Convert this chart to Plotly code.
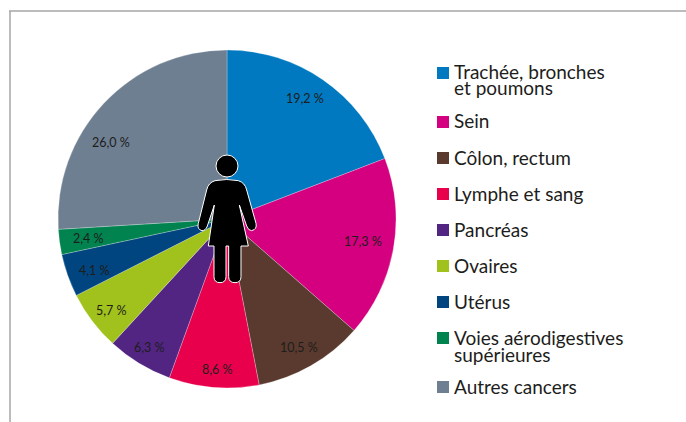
import math
import plotly.graph_objects as go

categories = ["Trachée, bronches et poumons", "Sein", "Côlon, rectum", "Lymphe et sang", "Pancréas",
              "Ovaires", "Utérus", "Voies aérodigestives supérieures", "Autres cancers"]
values = [19.2, 17.3, 10.5, 8.6, 6.3, 5.7, 4.1, 2.4, 26.0]
colors = ["#0079C1", "#D4007F", "#5A3A2E", "#E9004C", "#522583", "#A1C21C", "#004580", "#00834F", "#6F7F92"]
legend_lines = [["Trachée, bronches", "et poumons"], ["Sein"], ["Côlon, rectum"], ["Lymphe et sang"], ["Pancréas"],
                ["Ovaires"], ["Utérus"], ["Voies aérodigestives", "supérieures"], ["Autres cancers"]]

W, H = 686, 422
CX, CY, R = 227, 219, 169
FONT = "Lato"
TEXT = "#1d1d1b"
px = lambda x: x / W
py = lambda y: 1 - y / H

fig = go.Figure(go.Pie(
    labels=categories, values=values, sort=False, direction="clockwise", rotation=0,
    marker=dict(colors=colors, line=dict(color="rgba(255,255,255,0.35)", width=0.7)),
    textinfo="none", hoverinfo="label+percent", showlegend=False,
    domain=dict(x=[px(CX - R), px(CX + R)], y=[py(CY + R), py(CY - R)]),
))

annotations, shapes = [], []

# value labels, placed on the middle angle of each slice, then nudged as in the original
label_nudge = [(-2, -5), (-2, -2), (2, 7), (1, 11), (-5, 9), (-4, 7), (0, 5), (0, 0), (-14, 20)]
total = sum(values)
cum = 0
for v, (nx, ny) in zip(values, label_nudge):
    a = 2 * math.pi * (cum + v / 2) / total
    cum += v
    annotations.append(dict(
        x=px(CX + 0.83 * R * math.sin(a) + nx), y=py(CY - 0.83 * R * math.cos(a) + ny),
        xref="paper", yref="paper", showarrow=False, xanchor="center", yanchor="middle",
        text=f"{v:.1f} %".replace(".", ","), font=dict(family=FONT, size=12.5, color=TEXT),
    ))

# legend
legend_y = [72, 121, 158, 194, 230, 266, 302, 338, 387]
key_y = [73, 122, 158, 194, 230, 266, 302, 338, 387]
LINE = 17
for lines, y0, ky, c in zip(legend_lines, legend_y, key_y, colors):
    shapes.append(dict(type="rect", xref="paper", yref="paper", x0=px(437), x1=px(449),
                       y0=py(ky - 6), y1=py(ky + 6), fillcolor=c, line_width=0))
    for i, t in enumerate(lines):
        annotations.append(dict(x=px(451.5), y=py(y0 - 1 + i * LINE), xref="paper", yref="paper", showarrow=False,
                                xanchor="left", yanchor="middle", text=t,
                                font=dict(family=FONT, size=19, color=TEXT)))

# frame
for x0, y0, x1, y1 in [(9, 11, W, 11), (10, 11, 10, H)]:
    shapes.append(dict(type="line", xref="paper", yref="paper", x0=px(x0), y0=py(y0), x1=px(x1), y1=py(y1),
                       line=dict(color="#A6A6A6", width=1.5)))

# silhouette (outline traced in zoomed-crop units)
zx = lambda x: px(180 + x / 3)
zy = lambda y: py(140 + y / 3)
body = [("M", 105, 122), ("Q", 140, 115, 175, 122), ("Q", 195, 128, 200, 150), ("L", 228, 250),
        ("Q", 232, 268, 215, 272), ("Q", 205, 272, 200, 258), ("L", 178, 195), ("L", 205, 318), ("L", 183, 318),
        ("L", 183, 410), ("Q", 183, 428, 165, 428), ("Q", 146, 428, 146, 410), ("L", 146, 318), ("L", 138, 318),
        ("L", 138, 410), ("Q", 138, 428, 120, 428), ("Q", 102, 428, 102, 410), ("L", 102, 318), ("L", 85, 318),
        ("L", 103, 195), ("L", 82, 258), ("Q", 77, 272, 66, 272), ("Q", 50, 268, 55, 250), ("L", 80, 150),
        ("Q", 85, 128, 105, 122)]
path = ""
for seg in body:
    coords = seg[1:]
    pts = " ".join(f"{zx(coords[i]):.5f} {zy(coords[i + 1]):.5f}" for i in range(0, len(coords), 2))
    path += f"{seg[0]} {pts} "
shapes.append(dict(type="path", xref="paper", yref="paper", path=path + "Z", fillcolor="black",
                   line=dict(color="white", width=1)))
shapes.append(dict(type="circle", xref="paper", yref="paper", x0=px(216), x1=px(238), y0=py(177), y1=py(155),
                   fillcolor="black", line=dict(color="white", width=1)))

fig.update_layout(width=W, height=H, margin=dict(l=0, r=0, t=0, b=0), paper_bgcolor="white",
                  annotations=annotations, shapes=shapes, showlegend=False)
fig.write_html("out.html", config={"displayModeBar": False}, post_script="document.body.style.margin='0';")
